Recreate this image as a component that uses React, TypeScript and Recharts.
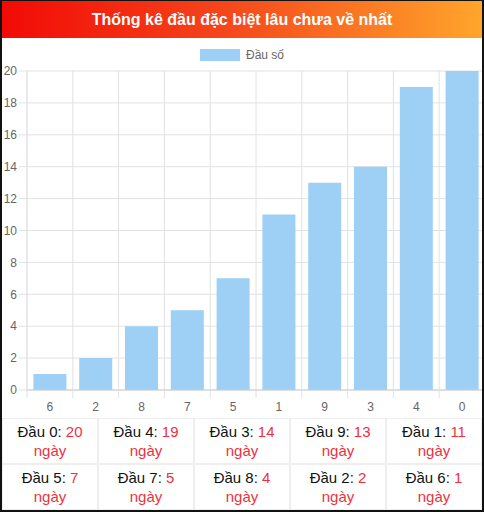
import { BarChart, Bar, XAxis, YAxis, CartesianGrid } from "recharts";

document.body.style.margin = "0";

const DAU_LABELS = ["6", "2", "8", "7", "5", "1", "9", "3", "4", "0"];
const DAU_DAYS = [1, 2, 4, 5, 7, 11, 13, 14, 19, 20];
const Y_TICKS = [0, 2, 4, 6, 8, 10, 12, 14, 16, 18, 20];

const FONT = "Arial, 'Liberation Sans', sans-serif";
const BAR_COLOR = "#9dd0f4";
const GRID = "#e2e2e2";
const RED = "#f0303f";

const rows = DAU_LABELS.map((dau, i) => ({ dau, days: DAU_DAYS[i] }));
const tableRows = [...rows].reverse();

function BandTick(props: any) {
  const { x, y, payload } = props;
  const left = payload.coordinate - (payload.offset || 0);
  return (
    <g>
      <line x1={left} x2={left} y1={y - 12} y2={y - 4} stroke={GRID} />
      <text x={x} y={y} dy="0.71em" textAnchor="middle" fontSize={12} fill="#666" fontFamily={FONT}>
        {payload.value}
      </text>
    </g>
  );
}

export default function App() {
  return (
    <div
      style={{
        width: 484, height: 512, boxSizing: "border-box", position: "relative", overflow: "hidden",
        borderLeft: "2px solid #111", borderRight: "2px solid #111", borderBottom: "2px solid #111",
        borderTop: "1px solid #111", background: "#fff", fontFamily: FONT,
      }}
    >
      {/* header */}
      <div
        style={{
          height: 37, background: "linear-gradient(90deg, #f20a06 0%, #f5441a 45%, #ffa52b 100%)",
          color: "#fff", fontWeight: 700, fontSize: 16, display: "flex", alignItems: "center", justifyContent: "center",
        }}
      >
        Thống kê đầu đặc biệt lâu chưa về nhất
      </div>

      {/* legend */}
      <div style={{ height: 25, display: "flex", justifyContent: "center", alignItems: "flex-end", gap: 6 }}>
        <span style={{ width: 40, height: 12, background: BAR_COLOR, display: "inline-block", marginBottom: 2 }} />
        <span style={{ fontSize: 12, color: "#666", lineHeight: "16px" }}>Đầu số</span>
      </div>

      <div style={{ position: "relative" }}>
        <BarChart width={483} height={355} data={rows} margin={{ top: 8, right: 0, bottom: 0, left: 0 }} barCategoryGap="14%">
          <CartesianGrid
            stroke={GRID}
            verticalCoordinatesGenerator={({ offset }: any) =>
              DAU_LABELS.map((_, i) => offset.left + (i * offset.width) / DAU_LABELS.length)
            }
          />
          <XAxis
            dataKey="dau"
            height={28}
            interval={0}
            tickSize={8}
            tickMargin={4}
            tickLine={{ stroke: "none" }}
            axisLine={{ stroke: "#ccc" }}
            tick={<BandTick />}
          />
          <YAxis
            width={25}
            domain={[0, 20]}
            ticks={Y_TICKS}
            interval={0}
            tickSize={8}
            tickMargin={2}
            tickLine={{ stroke: GRID }}
            axisLine={{ stroke: GRID }}
            tick={{ fontSize: 12, fill: "#666", fontFamily: FONT }}
          />
          <Bar dataKey="days" fill={BAR_COLOR} isAnimationActive={false} />
        </BarChart>
      </div>

      {/* table */}
      <div
        style={{
          position: "absolute", left: 0, top: 417, width: 480,
          display: "grid", gridTemplateColumns: "repeat(5, 1fr)", gridAutoRows: 46,
        }}
      >
        {tableRows.map((r) => (
          <div
            key={r.dau}
            style={{
              border: "1px solid #eee", display: "flex", flexDirection: "column", justifyContent: "center",
              alignItems: "center", fontSize: 15, lineHeight: "19px", color: "#111",
            }}
          >
            <div>
              Đầu {r.dau}: <span style={{ color: RED }}>{r.days}</span>
            </div>
            <div style={{ color: RED }}>ngày</div>
          </div>
        ))}
      </div>
    </div>
  );
}
